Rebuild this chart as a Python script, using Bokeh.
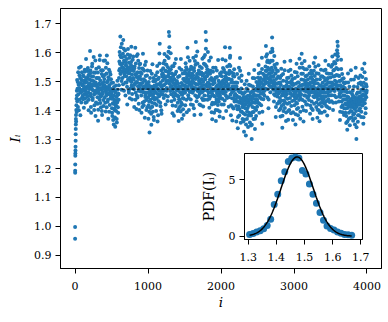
import numpy as np
from bokeh.plotting import figure
from bokeh.layouts import column
from bokeh.models import FixedTicker, NumeralTickFormatter, ColumnDataSource
from bokeh.embed import file_html
from bokeh.resources import INLINE

# ---------------- data ----------------
# first 100 iterations, sampled densely (transient from ~1.0 up to the plateau)
i_start = [0, 0, 1, 1, 2, 3, 4, 5, 6, 7, 8, 9, 10, 11, 12,
           14, 16, 18, 20, 22, 24, 26, 28, 30,
           33, 36, 39, 42, 45, 48, 51, 54, 57, 60, 63, 66, 69, 72, 75, 78, 81, 84, 87, 90, 93, 96, 99]
I_start = [0.958, 0.998, 1.185, 1.192, 1.214, 1.244, 1.252, 1.262, 1.275, 1.296, 1.318, 1.336, 1.352, 1.371, 1.385,
           1.362, 1.402, 1.418, 1.441, 1.395, 1.468, 1.452, 1.505, 1.432,
           1.475, 1.498, 1.412, 1.532, 1.456, 1.489, 1.401, 1.548, 1.478, 1.522, 1.438, 1.467, 1.512, 1.384,
           1.495, 1.551, 1.462, 1.428, 1.506, 1.471, 1.532, 1.445, 1.487]

# i = 100, 105, ..., 3995 ; values in units of 1e-3
bulk_i_first, bulk_i_step = 100, 5
I_bulk_milli = [
    1488, 1452, 1521, 1473, 1410, 1496, 1534, 1467, 1442, 1505, 1578, 1481, 1429, 1458, 1512, 1547, 1463, 1401, 1490, 1526,
    1474, 1605, 1538, 1449, 1392, 1483, 1517, 1561, 1436, 1470, 1502, 1585, 1455, 1418, 1497, 1530, 1381, 1466, 1544, 1489,
    1461, 1512, 1423, 1365, 1478, 1549, 1492, 1437, 1590, 1504, 1448, 1411, 1472, 1526, 1385, 1457, 1539, 1483, 1416, 1498,
    1509, 1444, 1573, 1482, 1397, 1461, 1528, 1590, 1475, 1430, 1503, 1372, 1456, 1541, 1487, 1419, 1468, 1524, 1451, 1495,
    1462, 1408, 1381, 1447, 1496, 1423, 1352, 1438, 1470, 1401, 1344, 1429, 1486, 1415, 1371, 1452, 1503, 1436, 1392, 1458,
    1487, 1538, 1602, 1561, 1655, 1527, 1584, 1472, 1630, 1549, 1512, 1596, 1643, 1535, 1468, 1571, 1519, 1607, 1452, 1556,
    1533, 1497, 1578, 1421, 1546, 1612, 1508, 1468, 1565, 1529, 1442, 1591, 1503, 1557, 1620, 1486, 1438, 1541, 1575, 1512,
    1478, 1536, 1412, 1552, 1493, 1617, 1461, 1524, 1405, 1588, 1497, 1445, 1531, 1572, 1468, 1515, 1402, 1560, 1489, 1532,
    1466, 1508, 1392, 1473, 1545, 1427, 1596, 1481, 1418, 1537, 1462, 1375, 1503, 1452, 1568, 1436, 1490, 1521, 1411, 1477,
    1445, 1372, 1498, 1431, 1324, 1467, 1536, 1409, 1458, 1351, 1482, 1427, 1560, 1396, 1448, 1512, 1367, 1475, 1438, 1501,
    1463, 1522, 1398, 1487, 1441, 1554, 1362, 1476, 1509, 1432, 1468, 1597, 1630, 1493, 1415, 1456, 1538, 1389, 1471, 1517,
    1528, 1486, 1563, 1443, 1512, 1595, 1472, 1537, 1421, 1559, 1502, 1468, 1587, 1535, 1448, 1519, 1603, 1671, 1657, 1492,
    1541, 1467, 1598, 1512, 1432, 1485, 1553, 1391, 1476, 1520, 1448, 1382, 1507, 1562, 1459, 1493, 1416, 1534, 1471, 1502,
    1452, 1398, 1516, 1473, 1364, 1439, 1547, 1482, 1415, 1461, 1578, 1427, 1495, 1372, 1456, 1528, 1404, 1469, 1441, 1510,
    1487, 1536, 1418, 1563, 1472, 1509, 1394, 1541, 1617, 1481, 1453, 1525, 1402, 1498, 1572, 1464, 1519, 1438, 1551, 1493,
    1466, 1528, 1503, 1419, 1582, 1470, 1547, 1385, 1511, 1493, 1558, 1636, 1489, 1432, 1526, 1604, 1467, 1513, 1449, 1538,
    1478, 1421, 1552, 1496, 1386, 1463, 1531, 1507, 1442, 1579, 1488, 1414, 1526, 1561, 1470, 1437, 1592, 1508, 1671, 1642,
    1553, 1484, 1519, 1437, 1602, 1496, 1462, 1538, 1410, 1491, 1527, 1448, 1583, 1472, 1505, 1421, 1370, 1468, 1534, 1499,
    1451, 1392, 1507, 1473, 1426, 1548, 1364, 1482, 1439, 1516, 1458, 1401, 1574, 1468, 1430, 1495, 1379, 1452, 1521, 1443,
    1486, 1532, 1421, 1468, 1577, 1503, 1374, 1459, 1541, 1492, 1435, 1618, 1517, 1464, 1398, 1528, 1481, 1552, 1446, 1509,
    1472, 1413, 1526, 1558, 1617, 1589, 1455, 1384, 1497, 1531, 1442, 1366, 1483, 1519, 1407, 1468, 1542, 1431, 1496, 1457,
    1438, 1497, 1362, 1451, 1526, 1404, 1339, 1472, 1415, 1548, 1383, 1446, 1581, 1427, 1358, 1463, 1502, 1396, 1441, 1371,
    1415, 1362, 1458, 1327, 1434, 1491, 1386, 1422, 1314, 1447, 1503, 1371, 1408, 1468, 1343, 1429, 1527, 1392, 1452, 1359,
    1421, 1486, 1348, 1437, 1302, 1465, 1394, 1512, 1428, 1371, 1455, 1540, 1409, 1336, 1473, 1439, 1381, 1498, 1452, 1413,
    1468, 1513, 1426, 1557, 1482, 1392, 1504, 1445, 1531, 1473, 1418, 1496, 1582, 1354, 1461, 1527, 1439, 1489, 1508, 1451,
    1517, 1476, 1552, 1623, 1498, 1536, 1594, 1445, 1573, 1511, 1408, 1542, 1487, 1566, 1529, 1463, 1601, 1518, 1482, 1548,
    1652, 1604, 1537, 1472, 1519, 1431, 1588, 1496, 1452, 1547, 1378, 1509, 1475, 1561, 1423, 1492, 1536, 1458, 1514, 1401,
    1463, 1427, 1512, 1379, 1488, 1544, 1416, 1452, 1341, 1473, 1526, 1398, 1467, 1435, 1568, 1409, 1482, 1447, 1364, 1501,
    1456, 1512, 1423, 1481, 1368, 1536, 1469, 1402, 1497, 1443, 1572, 1458, 1391, 1521, 1476, 1433, 1509, 1367, 1488, 1452,
    1471, 1418, 1533, 1446, 1352, 1492, 1427, 1561, 1405, 1468, 1518, 1384, 1453, 1497, 1436, 1579, 1461, 1372, 1486, 1440,
    1527, 1596, 1474, 1413, 1548, 1489, 1362, 1505, 1452, 1571, 1431, 1493, 1518, 1398, 1466, 1542, 1421, 1485, 1507, 1448,
    1491, 1436, 1552, 1474, 1389, 1513, 1462, 1537, 1408, 1481, 1527, 1371, 1496, 1449, 1564, 1423, 1478, 1519, 1583, 1457,
    1468, 1412, 1529, 1447, 1375, 1493, 1438, 1556, 1401, 1472, 1363, 1508, 1451, 1426, 1541, 1485, 1392, 1463, 1517, 1434,
    1482, 1426, 1538, 1461, 1397, 1503, 1572, 1448, 1416, 1491, 1529, 1383, 1474, 1512, 1439, 1557, 1466, 1408, 1497, 1453,
    1514, 1468, 1551, 1432, 1497, 1586, 1473, 1402, 1538, 1489, 1567, 1452, 1519, 1593, 1476, 1428, 1547, 1498, 1608, 1637,
    1623, 1542, 1486, 1431, 1519, 1458, 1367, 1503, 1447, 1575, 1412, 1482, 1526, 1394, 1468, 1437, 1511, 1385, 1452, 1494,
    1438, 1392, 1497, 1357, 1421, 1463, 1334, 1409, 1528, 1446, 1371, 1415, 1482, 1349, 1436, 1398, 1539, 1427, 1376, 1457,
    1412, 1468, 1365, 1431, 1507, 1389, 1446, 1352, 1423, 1548, 1398, 1302, 1457, 1418, 1481, 1361, 1437, 1512, 1384, 1446,
    1463, 1408, 1521, 1432, 1378, 1489, 1452, 1543, 1417, 1471, 1354, 1496, 1438, 1562, 1425, 1467, 1391, 1509, 1446, 1483,
]

# i = 102, 107, ..., 3997 ; values in units of 1e-3
bulk2_i_first, bulk2_i_step = 102, 5
I_bulk2_milli = [
    1467, 1503, 1439, 1518, 1482, 1455, 1541, 1496, 1427, 1473, 1512, 1462, 1498, 1536, 1449, 1484, 1521, 1437, 1476, 1508,
    1493, 1529, 1458, 1412, 1504, 1476, 1552, 1489, 1443, 1517, 1468, 1531, 1402, 1486, 1459, 1573, 1497, 1428, 1512, 1471,
    1482, 1446, 1531, 1403, 1467, 1512, 1458, 1574, 1489, 1426, 1477, 1539, 1451, 1398, 1493, 1462, 1518, 1436, 1572, 1474,
    1486, 1523, 1427, 1469, 1548, 1452, 1411, 1497, 1563, 1471, 1438, 1515, 1482, 1396, 1459, 1533, 1476, 1442, 1508, 1466,
    1441, 1392, 1469, 1425, 1367, 1452, 1481, 1406, 1433, 1376, 1462, 1418, 1398, 1447, 1359, 1428, 1472, 1411, 1455, 1437,
    1512, 1569, 1543, 1591, 1527, 1618, 1558, 1502, 1584, 1536, 1562, 1491, 1547, 1613, 1573, 1528, 1586, 1541, 1497, 1566,
    1518, 1554, 1482, 1537, 1593, 1506, 1529, 1461, 1548, 1582, 1513, 1476, 1539, 1567, 1498, 1524, 1457, 1551, 1509, 1586,
    1507, 1473, 1546, 1489, 1524, 1437, 1562, 1498, 1516, 1452, 1531, 1594, 1484, 1509, 1423, 1547, 1476, 1518, 1561, 1493,
    1488, 1452, 1527, 1471, 1412, 1496, 1542, 1463, 1508, 1431, 1484, 1557, 1447, 1519, 1476, 1402, 1493, 1461, 1538, 1482,
    1462, 1418, 1487, 1396, 1453, 1512, 1437, 1478, 1389, 1456, 1527, 1413, 1468, 1442, 1501, 1378, 1459, 1486, 1424, 1473,
    1478, 1443, 1506, 1419, 1491, 1532, 1457, 1384, 1472, 1513, 1449, 1562, 1488, 1427, 1497, 1466, 1401, 1481, 1524, 1455,
    1504, 1546, 1467, 1521, 1488, 1572, 1512, 1453, 1536, 1494, 1558, 1478, 1517, 1433, 1549, 1503, 1581, 1527, 1618, 1539,
    1513, 1481, 1542, 1456, 1503, 1528, 1472, 1417, 1496, 1553, 1461, 1509, 1437, 1487, 1526, 1475, 1578, 1452, 1498, 1481,
    1469, 1427, 1493, 1448, 1406, 1482, 1519, 1436, 1463, 1397, 1477, 1541, 1455, 1421, 1488, 1443, 1509, 1385, 1462, 1474,
    1502, 1461, 1528, 1483, 1549, 1437, 1496, 1518, 1472, 1584, 1507, 1443, 1531, 1489, 1466, 1542, 1497, 1421, 1513, 1478,
    1484, 1543, 1461, 1522, 1497, 1408, 1536, 1478, 1571, 1452, 1509, 1588, 1474, 1517, 1446, 1562, 1491, 1528, 1469, 1503,
    1492, 1457, 1526, 1473, 1418, 1508, 1482, 1547, 1463, 1521, 1436, 1499, 1584, 1477, 1452, 1514, 1559, 1488, 1613, 1531,
    1518, 1469, 1542, 1496, 1451, 1527, 1483, 1572, 1441, 1506, 1463, 1537, 1478, 1512, 1394, 1459, 1427, 1491, 1548, 1473,
    1472, 1423, 1496, 1448, 1513, 1402, 1467, 1431, 1538, 1459, 1487, 1419, 1452, 1503, 1442, 1476, 1397, 1528, 1461, 1482,
    1497, 1462, 1518, 1441, 1493, 1547, 1479, 1421, 1506, 1468, 1532, 1486, 1573, 1451, 1499, 1512, 1443, 1529, 1477, 1491,
    1487, 1446, 1509, 1537, 1582, 1554, 1476, 1418, 1472, 1506, 1463, 1412, 1497, 1528, 1441, 1483, 1517, 1452, 1473, 1438,
    1452, 1416, 1483, 1431, 1496, 1447, 1378, 1468, 1429, 1512, 1405, 1463, 1537, 1439, 1397, 1476, 1521, 1424, 1458, 1411,
    1432, 1391, 1447, 1368, 1419, 1463, 1408, 1443, 1352, 1428, 1476, 1397, 1437, 1451, 1382, 1416, 1489, 1423, 1441, 1387,
    1438, 1462, 1383, 1426, 1351, 1449, 1412, 1483, 1441, 1395, 1467, 1511, 1428, 1372, 1452, 1427, 1402, 1476, 1439, 1431,
    1486, 1497, 1452, 1528, 1467, 1423, 1491, 1472, 1512, 1458, 1441, 1477, 1543, 1396, 1482, 1506, 1457, 1471, 1523, 1468,
    1502, 1493, 1537, 1586, 1512, 1521, 1567, 1473, 1548, 1496, 1438, 1527, 1508, 1541, 1512, 1481, 1572, 1503, 1497, 1531,
    1613, 1572, 1516, 1487, 1503, 1456, 1557, 1482, 1471, 1528, 1412, 1493, 1462, 1538, 1448, 1477, 1517, 1473, 1496, 1432,
    1478, 1443, 1497, 1407, 1471, 1521, 1434, 1468, 1382, 1458, 1503, 1421, 1482, 1453, 1539, 1428, 1467, 1462, 1393, 1486,
    1471, 1497, 1441, 1468, 1398, 1513, 1482, 1427, 1478, 1459, 1541, 1471, 1416, 1502, 1489, 1452, 1493, 1394, 1471, 1467,
    1457, 1436, 1512, 1461, 1387, 1476, 1442, 1531, 1424, 1453, 1497, 1409, 1468, 1482, 1451, 1548, 1447, 1396, 1471, 1456,
    1507, 1562, 1488, 1436, 1527, 1472, 1401, 1491, 1468, 1542, 1452, 1478, 1503, 1421, 1483, 1521, 1444, 1471, 1492, 1463,
    1476, 1453, 1528, 1489, 1417, 1497, 1478, 1516, 1431, 1467, 1508, 1402, 1483, 1463, 1537, 1446, 1492, 1503, 1551, 1472,
    1452, 1428, 1507, 1462, 1403, 1478, 1453, 1527, 1421, 1457, 1392, 1487, 1466, 1441, 1518, 1471, 1414, 1478, 1496, 1449,
    1467, 1441, 1513, 1476, 1423, 1488, 1541, 1462, 1432, 1476, 1508, 1412, 1461, 1497, 1452, 1527, 1481, 1429, 1472, 1468,
    1496, 1482, 1527, 1453, 1478, 1558, 1488, 1427, 1517, 1472, 1541, 1467, 1503, 1562, 1491, 1446, 1523, 1481, 1574, 1598,
    1587, 1521, 1471, 1448, 1502, 1473, 1396, 1487, 1461, 1543, 1431, 1468, 1509, 1418, 1483, 1452, 1497, 1408, 1467, 1478,
    1423, 1407, 1468, 1381, 1437, 1448, 1362, 1424, 1497, 1431, 1392, 1428, 1463, 1374, 1421, 1412, 1506, 1438, 1397, 1442,
    1427, 1452, 1386, 1418, 1483, 1406, 1431, 1373, 1438, 1517, 1411, 1342, 1443, 1429, 1462, 1384, 1421, 1493, 1401, 1431,
    1448, 1421, 1497, 1447, 1396, 1472, 1438, 1516, 1429, 1456, 1377, 1481, 1451, 1532, 1437, 1452, 1408, 1491, 1461, 1468,
]

# time-average (dashed line) from i = 500 on
mean_i_range = [500, 3999]
mean_I = 1.474

# inset: histogram density of I_i
pdf_x = [1.305, 1.3175, 1.330, 1.3425, 1.355, 1.3675, 1.380, 1.3925, 1.405, 1.4175,
         1.430, 1.4425, 1.455, 1.4675, 1.480, 1.4925, 1.505, 1.5175, 1.530, 1.5425,
         1.555, 1.5675, 1.580, 1.5925, 1.605, 1.6175, 1.630, 1.6425, 1.655, 1.6675]
pdf_y = [0.15, 0.25, 0.38, 0.48, 0.65, 0.95, 1.50, 2.80, 3.70, 4.90,
         5.70, 6.60, 6.91, 7.00, 6.90, 5.80, 5.50, 4.60, 3.70, 2.90,
         2.10, 1.40, 0.90, 0.68, 0.55, 0.38, 0.26, 0.15, 0.13, 0.08]
# Gaussian fit parameters
fit_mu, fit_sigma = 1.474, 0.057

x_ticks = [0, 1000, 2000, 3000, 4000]
y_ticks = [0.9, 1.0, 1.1, 1.2, 1.3, 1.4, 1.5, 1.6, 1.7]
inset_x_ticks = [1.3, 1.4, 1.5, 1.6, 1.7]
inset_y_ticks = [0, 5]

# ---------------- build ----------------
bulk_i = [bulk_i_first + bulk_i_step * k for k in range(len(I_bulk_milli))]
bulk2_i = [bulk2_i_first + bulk2_i_step * k for k in range(len(I_bulk2_milli))]
all_i = list(i_start) + bulk_i + bulk2_i
all_I = list(I_start) + [v / 1000 for v in I_bulk_milli] + [v / 1000 for v in I_bulk2_milli]

BLUE = "#1f77b4"
FONT = "DejaVu Serif"
FS = "11px"


def style(fig):
    fig.grid.visible = False
    fig.outline_line_color = "black"
    fig.outline_line_width = 1
    fig.outline_line_alpha = 1
    for ax in (fig.xaxis[0], fig.yaxis[0]):
        ax.axis_line_color = "black"
        ax.major_tick_line_color = "black"
        ax.minor_tick_line_color = None
        ax.major_tick_in = 0
        ax.major_tick_out = 5
        ax.major_label_text_font = FONT
        ax.major_label_text_font_size = FS
        ax.major_label_text_color = "black"
        ax.axis_label_text_font = FONT
        ax.axis_label_text_color = "black"
    fig.xaxis[0].major_label_standoff = 8
    fig.yaxis[0].major_label_standoff = 4


p = figure(frame_width=321, frame_height=260,
           x_range=(-200, 4199), y_range=(0.855, 1.752),
           output_backend="svg", toolbar_location=None,
           min_border_left=58, min_border_right=3, min_border_top=8, min_border_bottom=46)
style(p)
p.xaxis.ticker = FixedTicker(ticks=x_ticks)
p.yaxis.ticker = FixedTicker(ticks=y_ticks)
p.xaxis.formatter = NumeralTickFormatter(format="0")
p.yaxis.formatter = NumeralTickFormatter(format="0.0")
p.xaxis.axis_label = "i"
p.yaxis.axis_label = "Iᵢ"
p.xaxis.axis_label_text_font_style = "italic"
p.yaxis.axis_label_text_font_style = "italic"
p.xaxis.axis_label_text_font_size = "13.5px"
p.yaxis.axis_label_text_font_size = "13.5px"
p.xaxis.axis_label_standoff = 1
p.yaxis.axis_label_standoff = 8

src = ColumnDataSource(dict(i=all_i, I=all_I))
p.scatter("i", "I", source=src, size=4, color=BLUE, line_color=None)
p.line(mean_i_range, [mean_I, mean_I], line_color="black", line_dash="3 2", line_width=1)

# inset
q = figure(frame_width=118, frame_height=86,
           x_range=(1.287, 1.706), y_range=(-0.29, 7.3),
           output_backend="svg", toolbar_location=None,
           min_border_left=60, min_border_right=10, min_border_top=4, min_border_bottom=28,
           margin=(-165, 0, 60, 184))
style(q)
q.border_fill_alpha = 0
q.background_fill_color = "white"
q.xaxis.ticker = FixedTicker(ticks=inset_x_ticks)
q.yaxis.ticker = FixedTicker(ticks=inset_y_ticks)
q.xaxis.formatter = NumeralTickFormatter(format="0.0")
q.yaxis.formatter = NumeralTickFormatter(format="0")
q.yaxis.axis_label = "PDF(Iᵢ)"
q.yaxis.axis_label_text_font_style = "normal"
q.yaxis.axis_label_text_font_size = "14px"
q.yaxis.axis_label_standoff = 9

q.scatter(pdf_x, pdf_y, size=7, color=BLUE, line_color=None)
xs = np.linspace(pdf_x[0], pdf_x[-1], 200)
ys = np.exp(-0.5 * ((xs - fit_mu) / fit_sigma) ** 2) / (fit_sigma * np.sqrt(2 * np.pi))
q.line(xs, ys, line_color="black", line_width=1.5)

layout = column(p, q)
open("out.html", "w").write(file_html(layout, INLINE))
